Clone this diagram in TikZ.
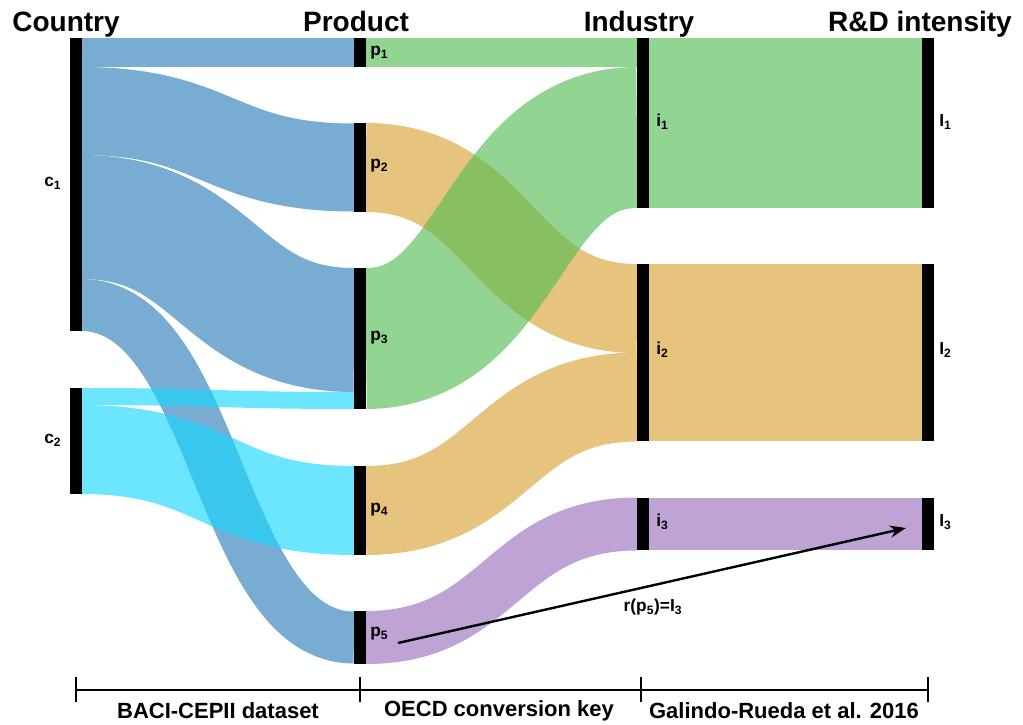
\documentclass[tikz,border=0pt]{standalone}
\usepackage{fontspec}
\setmainfont{Liberation Sans}
\usetikzlibrary{arrows.meta}
\definecolor{cblue}{RGB}{42,123,184}
\definecolor{ccyan}{RGB}{22,215,255}
\definecolor{cgreen}{RGB}{82,189,82}
\definecolor{corange}{RGB}{215,162,50}
\definecolor{cpurple}{RGB}{154,110,189}
% a sankey link drawn as a thick stroke along its centre line (x0, y0top, y0bot, x1, y1top, y1bot, style)
\newcommand\sankeylink[7]{%
  \draw[#7, line width={(#3-#2)*0.75pt}] (#1,{(#2+#3)/2})
    .. controls ({(#1+#4)/2},{(#2+#3)/2}) and ({(#1+#4)/2},{(#5+#6)/2}) .. (#4,{(#5+#6)/2});}
\newcommand\barnode[4]{%
  \node[barbox, minimum height={(#4-#3)*0.75pt}] (#1) at ({#2},{(#3+#4)/2}) {};}
\tikzset{
  flow/.style={draw=#1, draw opacity=0.63, line cap=butt},
  barbox/.style={fill=black, draw=none, inner sep=0pt, minimum width=9pt},
  title/.style={font=\bfseries\fontsize{21}{24}\selectfont, anchor=base, inner sep=0pt},
  lbl/.style={font=\bfseries\fontsize{13}{15}\selectfont, anchor=west, inner sep=0pt},
  foot/.style={font=\bfseries\fontsize{16.5}{19}\selectfont, inner sep=0pt},
  axisline/.style={line width=1.5pt},
}
\begin{document}
\begin{tikzpicture}[x=0.75pt, y=-0.75pt]
\useasboundingbox (0,0) rectangle (1023,724);
% country -> product
\sankeylink{81}{38}{67}{354}{38}{67}{flow=cblue}
\sankeylink{81}{67}{155}{354}{123}{212}{flow=cblue}
\sankeylink{81}{155}{279}{354}{268}{392}{flow=cblue}
\sankeylink{81}{279}{331}{354}{611}{664}{flow=cblue}
\sankeylink{81}{388}{405}{354}{392}{409}{flow=ccyan}
\sankeylink{81}{405}{494}{354}{466}{555}{flow=ccyan}
% product -> industry
\sankeylink{366}{38}{67}{637}{38}{67}{flow=cgreen}
\sankeylink{366}{123}{212}{637}{264}{353}{flow=corange}
\sankeylink{366}{268}{409}{637}{67}{208}{flow=cgreen}
\sankeylink{366}{466}{555}{637}{353}{441}{flow=corange}
\sankeylink{366}{611}{664}{637}{498}{550}{flow=cpurple}
% industry -> R&D
\sankeylink{649}{38}{208}{922}{38}{208}{flow=cgreen}
\sankeylink{649}{264}{441}{922}{264}{441}{flow=corange}
\sankeylink{649}{498}{550}{922}{498}{550}{flow=cpurple}
% bars
\barnode{c1}{75.5}{38}{331}
\barnode{c2}{75.5}{388}{494}
\barnode{p1}{360}{38}{67}
\barnode{p2}{360}{123}{212}
\barnode{p3}{360}{268}{409}
\barnode{p4}{360}{466}{555}
\barnode{p5}{360}{611}{664}
\barnode{i1}{643}{38}{208}
\barnode{i2}{643}{264}{441}
\barnode{i3}{643}{498}{550}
\barnode{l1}{928}{38}{208}
\barnode{l2}{928}{264}{441}
\barnode{l3}{928}{498}{550}
% titles
\node[title] (tc) at (66,32) {Country};
\node[title] (tp) at (356,32) {Product};
\node[title] (ti) at (639,32) {Industry};
\node[title] (tr) at (920,32) {R\&D intensity};
% labels
\node[lbl] (lc1) at (44,183) {c\textsubscript{1}};
\node[lbl] (lc2) at (44,440) {c\textsubscript{2}};
\node[lbl] (lp1) at (370,53) {p\textsubscript{1}};
\node[lbl] (lp2) at (370,166) {p\textsubscript{2}};
\node[lbl] (lp3) at (370,338) {p\textsubscript{3}};
\node[lbl] (lp4) at (370,510) {p\textsubscript{4}};
\node[lbl] (lp5) at (370,634) {p\textsubscript{5}};
\node[lbl] (li1) at (656,122) {i\textsubscript{1}};
\node[lbl] (li2) at (656,350) {i\textsubscript{2}};
\node[lbl] (li3) at (656,522) {i\textsubscript{3}};
\node[lbl] (ll1) at (939,122) {I\textsubscript{1}};
\node[lbl] (ll2) at (939,350) {I\textsubscript{2}};
\node[lbl] (ll3) at (939,522) {I\textsubscript{3}};
% arrow
\coordinate (aS) at (398,643);
\coordinate (aE) at (906,528);
\draw[line width=1.8pt, -{Stealth[length=12pt,width=9pt]}] (aS) -- (aE);
\node[lbl, anchor=center] (rl) at (653,607) {r(p\textsubscript{5})=I\textsubscript{3}};
% axis
\coordinate (t0) at (76,690);
\coordinate (t1) at (360,690);
\coordinate (t2) at (641,690);
\coordinate (t3) at (928,690);
\draw[axisline] (t0) -- (t3);
\foreach \t in {t0,t1,t2,t3} \draw[axisline] ([yshift=10pt]\t) -- ([yshift=-9pt]\t);
\node[foot] (f1) at (218,711) {BACI-CEPII dataset};
\node[foot] (f2) at (499,711) {OECD conversion key};
\node[foot] (f3) at (784,711) {Galindo-Rueda et al. 2016};
\end{tikzpicture}
\end{document}
